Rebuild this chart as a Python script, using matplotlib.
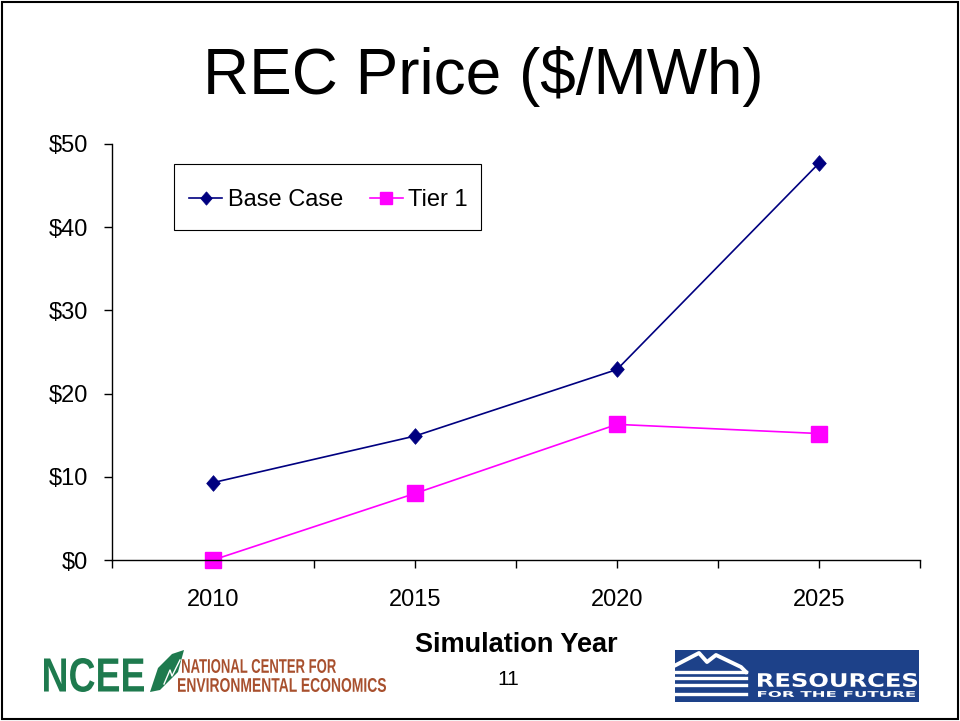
import matplotlib
matplotlib.use("Agg")
import matplotlib.pyplot as plt
from matplotlib.patches import Rectangle, Polygon, PathPatch
from matplotlib.lines import Line2D
from matplotlib.textpath import TextPath
from matplotlib.font_manager import FontProperties
from matplotlib.transforms import Affine2D

plt.rcParams["font.family"] = ["Liberation Sans", "DejaVu Sans"]

# ── data ─────────────────────────────────────────────────────────────────────
years = [2010, 2015, 2020, 2025]
base_case = [9.3, 14.9, 22.9, 47.7]
tier_1 = [0.0, 8.0, 16.3, 15.2]
y_ticks = [0, 10, 20, 30, 40, 50]
y_labels = ["$0", "$10", "$20", "$30", "$40", "$50"]

NAVY = "#000080"
MAGENTA = "#ff00ff"
W, H = 960, 721

# slightly tall diamond, like the Excel marker
DIAMOND = [(0, 1), (0.87, 0), (0, -1), (-0.87, 0), (0, 1)]

fig = plt.figure(figsize=(9.6, 7.21), dpi=100, facecolor="white")


def fitted_text(s, x0, x1, y_top, y_bot, color, weight="bold", family="Liberation Sans"):
    """Draw text squeezed into a pixel box (x0..x1, cap top..baseline)."""
    tp = TextPath((0, 0), s, size=1, prop=FontProperties(family=family, weight=weight))
    ext = tp.get_extents()
    sx = (x1 - x0) / W / ext.width
    sy = (y_bot - y_top) / H / ext.height
    tr = Affine2D().translate(-ext.x0, -ext.y0).scale(sx, sy).translate(x0 / W, 1 - y_bot / H)
    fig.patches.append(PathPatch(tr.transform_path(tp), transform=fig.transFigure,
                                 facecolor=color, edgecolor="none"))


# slide border
fig.patches.append(Rectangle((0.002, 0.003), 0.996, 0.994, transform=fig.transFigure,
                             fill=False, edgecolor="black", linewidth=1.5))

fig.text(0.503, 0.894, "REC Price ($/MWh)", ha="center", va="center", fontsize=46)

ax = fig.add_axes([0.1167, 0.2233, 0.8417, 0.577])
ax.plot(years, base_case, color=NAVY, linewidth=1.2, marker=DIAMOND, markersize=11.3,
        markerfacecolor=NAVY, markeredgecolor=NAVY, markeredgewidth=0.5,
        label="Base Case")
ax.plot(years, tier_1, color=MAGENTA, linewidth=1.2, marker="s", markersize=11,
        markerfacecolor=MAGENTA, markeredgecolor=MAGENTA, label="Tier 1",
        clip_on=False)

ax.set_xlim(2007.5, 2027.5)
ax.set_ylim(0, 50)
ax.set_yticks(y_ticks)
ax.set_yticklabels(y_labels)
x_ticks = [2007.5 + 2.5 * i for i in range(9)]
ax.set_xticks(x_ticks)
ax.set_xticklabels([str(int(t)) if t in years else "" for t in x_ticks])
for s in ["top", "right"]:
    ax.spines[s].set_visible(False)
for s in ["left", "bottom"]:
    ax.spines[s].set_linewidth(1.0)
ax.tick_params(axis="both", direction="out", length=6, width=1.0, labelsize=17)
ax.tick_params(axis="x", pad=15)
ax.tick_params(axis="y", pad=11)

ax.set_xlabel("Simulation Year", fontsize=19.5, fontweight="bold", labelpad=15)

# legend box drawn separately so its padding matches the slide
ax.add_patch(Rectangle((0.0767, 0.7933), 0.38, 0.1587, transform=ax.transAxes,
                       fill=False, edgecolor="black", linewidth=0.8, zorder=4))
ax.legend(loc="center left", bbox_to_anchor=(0.0957, 0.865), ncol=2, fontsize=17,
          frameon=False, borderpad=0, borderaxespad=0, handlelength=1.4,
          columnspacing=1.1, handletextpad=0.25, markerscale=0.85)

fig.text(0.529, 0.058, "11", ha="center", va="center", fontsize=15)

# ── NCEE logo ────────────────────────────────────────────────────────────────
NCEE_GREEN = "#1e7a4e"
NCEE_BROWN = "#a8502e"
fitted_text("NCEE", 44, 144, 658, 692, NCEE_GREEN)
leaf = Polygon([[150 / W, 1 - 692 / H], [158 / W, 1 - 668 / H], [172 / W, 1 - 654 / H],
                [184 / W, 1 - 650 / H], [178 / W, 1 - 672 / H], [160 / W, 1 - 690 / H]],
               closed=True, transform=fig.transFigure, facecolor=NCEE_GREEN, edgecolor="none")
fig.patches.append(leaf)
fig.lines.append(Line2D([164 / W, 170 / W, 172 / W, 180 / W],
                        [1 - 684 / H, 1 - 670 / H, 1 - 676 / H, 1 - 660 / H],
                        transform=fig.transFigure, color="white", linewidth=1.0))
fitted_text("NATIONAL CENTER FOR", 182, 336, 659, 673, NCEE_BROWN)
fitted_text("ENVIRONMENTAL ECONOMICS", 178, 386, 678, 692, NCEE_BROWN)

# ── RFF logo ─────────────────────────────────────────────────────────────────
RFF_BLUE = "#1d4189"
fig.patches.append(Rectangle((675 / W, 1 - 702 / H), 244 / W, 52 / H,
                             transform=fig.transFigure, facecolor=RFF_BLUE,
                             edgecolor="none"))
mx = [676, 699, 707, 716, 741, 746]
my = [665, 653, 662, 655, 667, 672]
fig.lines.append(Line2D([v / W for v in mx], [1 - v / H for v in my],
                        transform=fig.transFigure, color="white", linewidth=2.8))
for yy, xe in [(672, 746), (678, 746), (685, 746), (694, 746)]:
    fig.lines.append(Line2D([676 / W, xe / W], [1 - yy / H, 1 - yy / H],
                            transform=fig.transFigure, color="white", linewidth=2.4))
fitted_text("RESOURCES", 758, 917, 673, 687, "white", family="DejaVu Sans")
fitted_text("FOR THE FUTURE", 758, 915, 691, 697, "white", family="DejaVu Sans")

fig.savefig("out.png", dpi=100, facecolor="white")
